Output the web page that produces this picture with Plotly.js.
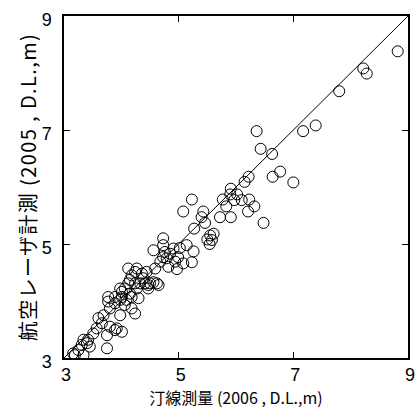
<!DOCTYPE html>
<html>
<head>
<meta charset="utf-8">
<script src="https://cdn.plot.ly/plotly-3.0.1.min.js"></script>
<style>
  html, body { margin: 0; padding: 0; background: #fff; }
  #chart { width: 416px; height: 410px; }
  #chart .ytitle { letter-spacing: 1.4px; }
</style>
</head>
<body>
<div id="chart"></div>
<script>
// Shoreline survey (2006) vs. airborne laser survey (2005), elevations in m (D.L.)
const shoreline2006 = [
  8.82, 8.22, 8.28, 7.80, 7.39, 7.17, 6.36, 6.43, 6.63, 6.77,
  6.64, 7.00, 6.22, 6.15, 5.91, 5.90, 6.02, 5.77, 5.97, 6.10,
  6.23, 5.83, 6.32, 6.21, 6.48, 5.23, 5.08, 5.43, 5.40, 5.46,
  5.72, 5.91, 5.27, 5.55, 5.50, 5.58, 5.54, 5.61, 5.14, 5.26,
  5.23, 4.73, 4.73, 4.76, 4.79, 4.68, 4.85, 4.91, 4.99, 4.56,
  4.59, 4.97, 4.82, 5.08, 4.73, 4.94, 5.02, 4.36, 4.38, 4.33,
  4.41, 4.24, 4.44, 4.27, 4.56, 4.50, 4.62, 4.65, 4.47, 4.12,
  4.18, 4.15, 4.24, 4.12, 4.06, 4.27, 4.15, 4.01, 3.89, 3.98,
  4.09, 3.77, 4.30, 4.47, 4.01, 3.77, 4.18, 3.80, 3.89, 4.06,
  4.18, 4.24, 3.98, 3.69, 3.66, 3.57, 3.80, 3.89, 4.01, 3.75,
  3.51, 3.34, 3.40, 3.31, 3.45, 3.75, 3.25, 3.16, 3.34, 3.19,
  3.42, 3.60, 3.92, 3.98
];
const laser2005 = [
  8.38, 8.08, 7.99, 7.68, 7.08, 6.98, 6.98, 6.67, 6.58, 6.27,
  6.18, 6.08, 6.18, 6.09, 5.97, 5.87, 5.87, 5.78, 5.77, 5.77,
  5.78, 5.66, 5.66, 5.57, 5.37, 5.78, 5.57, 5.57, 5.47, 5.37,
  5.47, 5.47, 5.27, 5.15, 5.08, 5.07, 5.00, 5.18, 4.98, 4.87,
  4.68, 5.10, 4.98, 4.86, 4.75, 4.69, 4.83, 4.92, 4.77, 4.89,
  4.57, 4.56, 4.60, 4.66, 4.77, 4.69, 4.93, 4.48, 4.40, 4.31,
  4.31, 4.51, 4.51, 4.57, 4.33, 4.31, 4.31, 4.28, 4.28, 4.57,
  4.45, 4.37, 4.31, 4.31, 4.22, 4.22, 4.13, 4.16, 4.07, 4.02,
  4.02, 3.99, 4.05, 4.22, 4.07, 4.07, 4.07, 3.87, 3.96, 3.93,
  3.87, 3.78, 3.75, 3.75, 3.61, 3.52, 3.55, 3.49, 3.46, 3.40,
  3.43, 3.32, 3.26, 3.23, 3.20, 3.17, 3.14, 3.08, 3.05, 3.05,
  3.32, 3.70, 3.52, 4.22
];

// 1:1 reference line
const lineX = [3, 9];
const lineY = [3, 9];

const tickValues = [3, 5, 7, 9];
const tickLabels = ['3', '5', '7', '9'];

const tickFont = { family: '"Liberation Sans Narrow", "Liberation Sans", Arial, sans-serif', size: 18, color: '#000' };
const titleFontFamily = '"Noto Sans CJK JP", "Liberation Sans", sans-serif';

const traces = [
  {
    x: lineX, y: lineY,
    type: 'scatter', mode: 'lines',
    line: { color: '#000', width: 1 },
    hoverinfo: 'skip', showlegend: false
  },
  {
    x: shoreline2006, y: laser2005,
    type: 'scatter', mode: 'markers',
    marker: { symbol: 'circle-open', size: 11, color: '#000', line: { width: 1, color: '#000' } },
    showlegend: false
  }
];

const axisBase = {
  range: [3, 9],
  tickmode: 'array',
  tickvals: tickValues,
  ticktext: tickLabels,
  ticks: 'inside',
  ticklen: 6,
  tickwidth: 1,
  tickcolor: '#000',
  showline: true,
  linecolor: '#000',
  linewidth: 1.6,
  mirror: 'ticks',
  showgrid: false,
  zeroline: false,
  tickfont: tickFont,
  automargin: false
};

const layout = {
  width: 416,
  height: 410,
  margin: { l: 64, r: 8, t: 16, b: 52 },
  paper_bgcolor: '#fff',
  plot_bgcolor: '#fff',
  showlegend: false,
  xaxis: Object.assign({}, axisBase, {
    ticklabelshift: 2,
    title: { text: '汀線測量 (2006 , D.L.,m)', font: { family: titleFontFamily, size: 16, color: '#000' }, standoff: 6 }
  }),
  yaxis: Object.assign({}, axisBase, {
    ticklabelshift: 4,
    ticklabelstandoff: 7,
    title: { text: '航空レーザ計測 (2005 , D.L.,m)', font: { family: titleFontFamily, size: 20, color: '#000' }, standoff: 0 }
  })
};

Plotly.newPlot('chart', traces, layout, { staticPlot: true, displayModeBar: false });
</script>
</body>
</html>
